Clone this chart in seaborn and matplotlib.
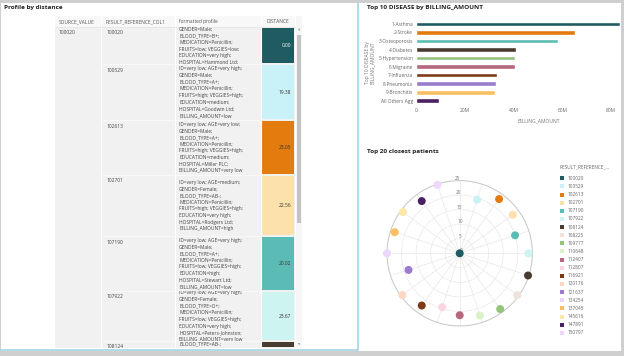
import numpy as np
import pandas as pd
import seaborn as sns
import matplotlib.pyplot as plt
from matplotlib.patches import Rectangle
from matplotlib.ticker import FuncFormatter

sns.set_theme(style="white")
plt.rcParams['font.family'] = ['Open Sans', 'DejaVu Sans']

# bar chart data
diseases = ["1-Asthma", "2-Stroke", "3-Osteoporosis", "4-Diabetes", "5-Hypertension",
            "6-Migraine", "7-Influenza", "8-Pneumonia", "9-Bronchitis", "All Others Agg"]
billing_m = [83.5, 65.3, 58.1, 41.1, 40.7, 40.7, 33.3, 32.7, 32.5, 9.3]
disease_colors = ["#1f5b60", "#e37b0f", "#5bbcb5", "#4a3b30", "#92c47c",
                  "#b5687d", "#7d3a17", "#9a7bcc", "#fbbf63", "#4c1f63"]

# closest patients (polar)
patient_ids = ["100020", "100529", "102613", "102701", "107190", "107922", "108124",
               "108225", "109777", "110648", "112407", "112807", "116921", "120176",
               "121637", "134254", "137045", "145616", "147891", "150797"]
patient_dist = [0.0, 19.38, 23.05, 22.56, 20.02, 23.67, 24.7, 24.5, 23.7, 22.5,
                21.3, 19.5, 22.2, 24.4, 18.5, 25.0, 23.5, 24.1, 22.2, 24.7]
patient_colors = ["#1f5b60", "#c8f2f8", "#e37b0f", "#fde1ad", "#5bbcb5", "#cdf4f1",
                  "#4a3b30", "#ede3da", "#92c47c", "#d9f2c8", "#b5687d", "#fbd5e0",
                  "#7d3a17", "#fdd7c2", "#9a7bcc", "#e9d8fb", "#fbbf63", "#fde6a9",
                  "#4c1f63", "#f2d7fc"]

# table data
table_headers = ["SOURCE_VALUE", "RESULT_REFERENCE_COL1", "formatted profile", "DISTANCE"]
table_source = ["100020", "", "", "", "", "", ""]
table_ids = ["100020", "100529", "102613", "102701", "107190", "107922", "108124"]
table_dist = ["0.00", "19.38", "23.05", "22.56", "20.02", "23.67", ""]
table_profiles = [
    ["", "GENDER=Male;", "BLOOD_TYPE=B+;", "MEDICATION=Penicillin;", "FRUITS=low; VEGGIES=low;",
     "EDUCATION=very high;", "HOSPITAL=Hammond Ltd;", ""],
    ["ID=very low; AGE=very high;", "GENDER=Male;", "BLOOD_TYPE=A+;", "MEDICATION=Penicillin;",
     "FRUITS=high; VEGGIES=high;", "EDUCATION=medium;", "HOSPITAL=Goodwin Ltd;", "BILLING_AMOUNT=low"],
    ["ID=very low; AGE=very low;", "GENDER=Male;", "BLOOD_TYPE=A+;", "MEDICATION=Penicillin;",
     "FRUITS=high; VEGGIES=high;", "EDUCATION=medium;", "HOSPITAL=Miller PLC;", "BILLING_AMOUNT=very low"],
    ["ID=very low; AGE=medium;", "GENDER=Female;", "BLOOD_TYPE=AB-;", "MEDICATION=Penicillin;",
     "FRUITS=high; VEGGIES=high;", "EDUCATION=very high;", "HOSPITAL=Rodgers Ltd;", "BILLING_AMOUNT=high"],
    ["ID=very low; AGE=very high;", "GENDER=Male;", "BLOOD_TYPE=A+;", "MEDICATION=Penicillin;",
     "FRUITS=low; VEGGIES=high;", "EDUCATION=high;", "HOSPITAL=Stewart Ltd;", "BILLING_AMOUNT=low"],
    ["ID=very low; AGE=very high;", "GENDER=Female;", "BLOOD_TYPE=O+;", "MEDICATION=Penicillin;",
     "FRUITS=low; VEGGIES=high;", "EDUCATION=very high;", "HOSPITAL=Peters-Johnston;", "BILLING_AMOUNT=very low"],
    ["BLOOD_TYPE=AB-;"],
]

W, H = 624, 356
fig = plt.figure(figsize=(6.24, 3.56), dpi=100)


def px_axes(x0, y0, x1, y1, **kw):
    return fig.add_axes([x0 / W, 1 - y1 / H, (x1 - x0) / W, (y1 - y0) / H], **kw)


bg = fig.add_axes([0, 0, 1, 1])
bg.set_xlim(0, W)
bg.set_ylim(H, 0)
bg.axis('off')

# frame
gray = "#cfcfcf"
blue = "#a6d3e3"
bg.add_patch(Rectangle((0, 0), W, 2.5, fc=gray, ec='none'))
bg.add_patch(Rectangle((0, 351), W, 5, fc=gray, ec='none'))
bg.add_patch(Rectangle((621, 0), 3, H, fc=gray, ec='none'))
bg.add_patch(Rectangle((0, 0), 1, H, fc=gray, ec='none'))
bg.plot([358, 358], [2.5, 350], color=blue, lw=1.2)
bg.plot([0, 358], [349.5, 349.5], color=blue, lw=1.2)

# ---- table panel ----
bg.text(4, 8, "Profile by distance", fontsize=4.6, weight='bold', color='#222', va='center')
col_x = [55, 101, 175, 261, 295]
row_edges = [27, 64, 120, 175, 236, 291, 341, 396]
body_bottom = 348
line_h = 6.7
txt_c = '#444'
fs = 3.5

bg.add_patch(Rectangle((55, 16), 240, body_bottom - 16, fc='#f1f1f1', ec='none'))
bg.add_patch(Rectangle((55, 16), 240, 11, fc='#f8f8f8', ec='none'))
for x in col_x[1:4]:
    bg.plot([x, x], [16, body_bottom], color='white', lw=0.8)
bg.plot([55, 295], [27, 27], color='#e4e4e4', lw=0.5)
for j, h in enumerate(table_headers):
    if j == 3:
        bg.text((col_x[3] + col_x[4]) / 2, 21.5, h, fontsize=fs, color='#555', ha='center', va='center')
    else:
        bg.text(col_x[j] + 4, 21.5, h, fontsize=fs, color='#555', va='center')

for i in range(len(table_ids)):
    top, bot = row_edges[i], row_edges[i + 1]
    vis_bot = min(bot, body_bottom)
    clip = Rectangle((55, top), 240, vis_bot - top, transform=bg.transData)
    if i > 0:
        bg.plot([col_x[1], col_x[3]], [top, top], color='#fafafa', lw=0.6)
    # distance cell coloured like the patient
    cell = Rectangle((col_x[3] + 0.6, top + 0.6), col_x[4] - col_x[3] - 1.2, vis_bot - top - 1.2,
                     fc=patient_colors[patient_ids.index(table_ids[i])], ec='none')
    bg.add_patch(cell)
    if table_dist[i]:
        bg.text(col_x[4] - 4, (top + bot) / 2, table_dist[i], fontsize=fs,
                color='white' if i == 0 else '#333', ha='right', va='center')
    t = bg.text(col_x[0] + 4, top + 6, table_source[i], fontsize=fs, color=txt_c, va='center', clip_on=True)
    t.set_clip_path(clip)
    t = bg.text(col_x[1] + 6, top + 6, table_ids[i], fontsize=fs, color=txt_c, va='center', clip_on=True)
    t.set_clip_path(clip)
    lines = table_profiles[i]
    if len(lines) == 8:
        y0 = (top + bot) / 2 - 3.5 * line_h
    else:
        y0 = top + 3
    for k, ln in enumerate(lines):
        t = bg.text(col_x[2] + 4, y0 + k * line_h, ln, fontsize=fs, color=txt_c, va='center', clip_on=True)
        t.set_clip_path(clip)

# scrollbar
bg.add_patch(Rectangle((296, 16), 6, body_bottom - 16, fc='#f6f6f6', ec='none'))
bg.add_patch(Rectangle((297, 35), 4, 188, fc='#c3c3c3', ec='none'))
bg.text(299, 30, "▲", fontsize=2.2, color='#999', ha='center', va='center')
bg.text(299, 345, "▼", fontsize=2.2, color='#999', ha='center', va='center')

# ---- bar chart ----
bg.text(367, 7, "Top 10 DISEASE by BILLING_AMOUNT", fontsize=4.6, weight='bold', color='#222', va='center')
bar_df = pd.DataFrame({"disease": diseases, "billing": np.array(billing_m) * 1e6})
bax = px_axes(416, 19.7, 621, 105)
sns.barplot(data=bar_df, x="billing", y="disease", hue="disease", palette=disease_colors,
            legend=False, width=0.55, orient='h', ax=bax, saturation=1)
bax.set_xlim(0, 84e6)
bax.set_xticks([0, 20e6, 40e6, 60e6, 80e6])
bax.xaxis.set_major_formatter(FuncFormatter(lambda v, p: "0" if v == 0 else f"{int(v / 1e6)}M"))
bax.tick_params(axis='both', length=0, labelsize=3.5, labelcolor='#666', pad=2)
for s in bax.spines.values():
    s.set_visible(False)
bax.set_facecolor('none')
bax.set_xlabel("BILLING_AMOUNT", fontsize=3.6, color='#777')
bax.xaxis.set_label_coords(0.6, -0.16)
bax.set_ylabel("Top 10 DISEASE by\nBILLING_AMOUNT", fontsize=3.6, color='#777', linespacing=1.1)
bax.yaxis.set_label_coords(-0.2, 0.5)

# ---- polar chart ----
bg.text(367, 151, "Top 20 closest patients", fontsize=4.6, weight='bold', color='#222', va='center')
angles = np.deg2rad(np.arange(len(patient_ids)) * 18.0)
pol_df = pd.DataFrame({"theta": angles, "dist": patient_dist, "id": patient_ids})
cx, cy, R = 459.7, 253.3, 72.7
pax = px_axes(cx - R, cy - R, cx + R, cy + R, projection='polar')
pax.set_theta_zero_location('N')
pax.set_theta_direction(-1)
pax.set_rlim(0, 25)
pax.set_rticks([0, 5, 10, 15, 20, 25])
pax.set_rlabel_position(-4)
pax.set_thetagrids(np.arange(0, 360, 18), labels=[""] * 20)
pax.tick_params(axis='y', labelsize=3.4, labelcolor='#777', pad=0)
pax.grid(color='#e8e8e8', lw=0.5)
pax.spines['polar'].set_color('#c8c8c8')
pax.spines['polar'].set_linewidth(0.7)
pax.set_facecolor('white')
sns.scatterplot(data=pol_df, x="theta", y="dist", hue="id",
                palette=dict(zip(patient_ids, patient_colors)), s=33, linewidth=0,
                legend=False, ax=pax, clip_on=False, zorder=5)
pax.set_xlabel("")
pax.set_ylabel("")

# legend
bg.text(560, 166.7, "RESULT_REFERENCE_...", fontsize=3.4, color='#666', va='center')
for i, (pid, c) in enumerate(zip(patient_ids, patient_colors)):
    y = 178.3 + i * 8.13
    bg.scatter([562.3], [y], marker='s', s=11, color=c, linewidths=0)
    bg.text(567.5, y, pid, fontsize=3.4, color='#666', va='center')

fig.savefig("out.png", dpi=100)
